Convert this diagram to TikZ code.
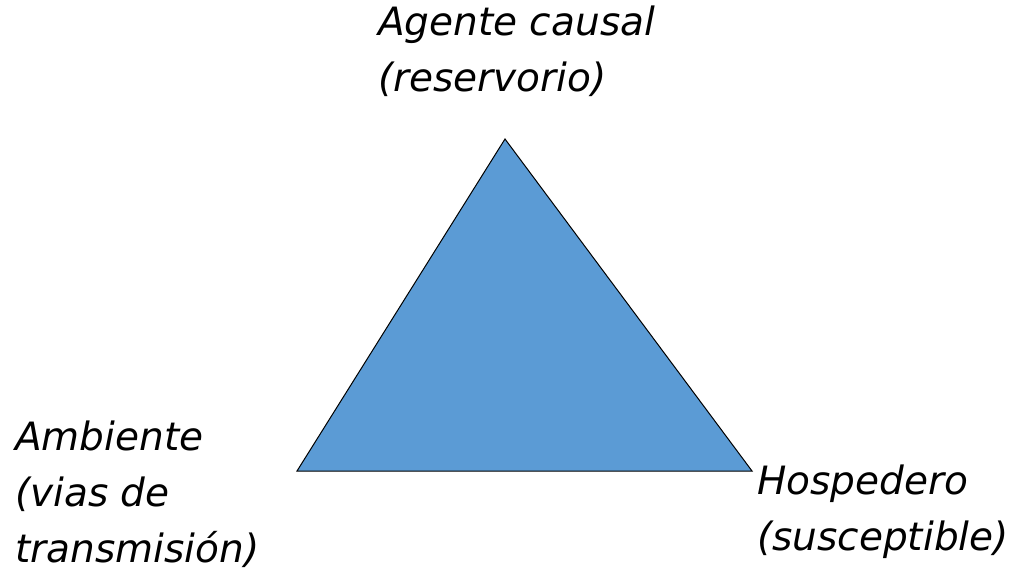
\documentclass[tikz,border=0pt]{standalone}
\usepackage{fontspec}
\setmainfont{DejaVu Sans}
\usepackage{xcolor}
\usepackage{tikz}
\definecolor{triblue}{HTML}{5B9BD5}

\begin{document}
\begin{tikzpicture}[x=1pt, y=-1pt, every node/.style={inner sep=0pt, align=left, font=\fontsize{39}{56}\selectfont\itshape}]
  \useasboundingbox (0,0) rectangle (1032,577);

  % triangle corners
  \coordinate (top) at (505,139);
  \coordinate (left) at (297,471);
  \coordinate (right) at (752,471);
  \draw[black, line width=1pt, fill=triblue] (top) -- (left) -- (right) -- cycle;

  % labels (base = last line)
  \node[anchor=base west] (agent) at (378,92) {Agente causal\\(reservorio)};
  \node[anchor=base west] (env) at (15,562) {Ambiente\\(vias de\\transmisión)};
  \node[anchor=base west] (host) at (757,550) {Hospedero\\(susceptible)};
\end{tikzpicture}
\end{document}
